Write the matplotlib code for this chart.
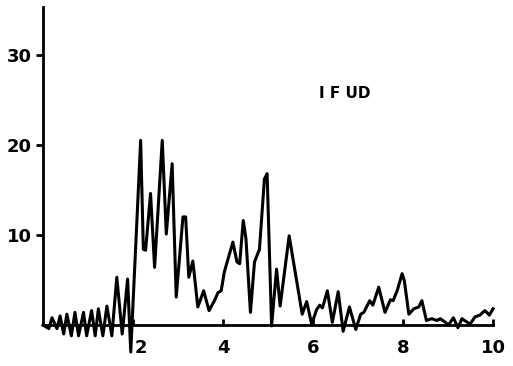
import matplotlib
matplotlib.use("Agg")
import matplotlib.pyplot as plt
import matplotlib.transforms as mtransforms

# Frequency-like abscissa and amplitude
x_vals = [0.0, 0.13, 0.2, 0.31, 0.38, 0.46, 0.53, 0.63, 0.71, 0.79, 0.9, 0.97,
          1.08, 1.16, 1.23, 1.33, 1.42, 1.53, 1.64, 1.76, 1.88, 1.95,
          2.17, 2.23, 2.28, 2.39, 2.48, 2.65, 2.74, 2.87, 2.96, 3.11, 3.17,
          3.24, 3.33, 3.44, 3.57, 3.69, 3.81, 3.89, 3.96, 4.03, 4.11, 4.22,
          4.31, 4.37, 4.45, 4.51, 4.61, 4.70, 4.81, 4.92, 4.98, 5.08, 5.19,
          5.27, 5.47, 5.65, 5.76, 5.86, 5.97, 6.08, 6.15, 6.21, 6.32, 6.43,
          6.56, 6.67, 6.81, 6.95, 7.06, 7.13, 7.26, 7.33, 7.46, 7.60, 7.72,
          7.78, 7.87, 7.98, 8.03, 8.13, 8.24, 8.35, 8.42, 8.52, 8.64, 8.75,
          8.83, 8.94, 9.01, 9.12, 9.22, 9.31, 9.49, 9.60, 9.71, 9.82, 9.92, 10.0]
y_vals = [0.0, -0.4, 0.8, -0.4, 1.0, -1.0, 1.2, -1.2, 1.4, -1.2, 1.4, -1.2,
          1.6, -1.2, 1.8, -1.2, 2.1, -1.2, 5.3, -1.0, 5.1, -3.0,
          20.5, 8.4, 8.3, 14.6, 6.4, 20.5, 10.1, 17.9, 3.1, 12.0, 12.0,
          5.3, 7.1, 2.0, 3.8, 1.6, 2.7, 3.6, 3.8, 5.9, 7.3, 9.2,
          7.0, 6.8, 11.6, 9.6, 1.4, 7.0, 8.4, 16.2, 16.8, -0.1, 6.2,
          2.1, 9.9, 4.5, 1.2, 2.6, 0.1, 1.7, 2.2, 1.9, 3.8, 0.3,
          3.7, -0.7, 2.0, -0.5, 1.2, 1.4, 2.7, 2.2, 4.2, 1.4, 2.8,
          2.7, 3.8, 5.7, 4.9, 1.2, 1.8, 2.0, 2.7, 0.5, 0.7, 0.5,
          0.7, 0.3, 0.0, 0.8, -0.3, 0.7, 0.1, 0.9, 1.1, 1.6, 1.1, 1.8]

x_ticks = [2, 4, 6, 8, 10]
x_tick_labels = ["2", "4", "6", "8", "10"]
y_ticks = [10, 20, 30]
y_tick_labels = ["10", "20", "30"]
label_text = "I F UD"

fig = plt.figure(figsize=(5.13, 3.66), dpi=100)
ax = fig.add_axes([43 / 513, 41 / 366, 450 / 513, 318 / 366])
ax.plot(x_vals, y_vals, color="black", lw=2.2, solid_joinstyle="round",
        clip_on=False)
ax.set_xlim(0, 10)
ax.set_ylim(0, 35.3)
for s in ["top", "right"]:
    ax.spines[s].set_visible(False)
for s in ["left", "bottom"]:
    ax.spines[s].set_linewidth(2.0)

ax.set_xticks(x_ticks)
ax.set_xticklabels(x_tick_labels, fontsize=13, fontweight="bold")
ax.set_yticks(y_ticks)
ax.set_yticklabels(y_tick_labels, fontsize=13, fontweight="bold")
ax.tick_params(axis="x", direction="in", length=4, width=2, pad=10)
ax.tick_params(axis="y", direction="out", length=5, width=2, pad=3)

# the "2" label sits right of its tick in the reference
lbl = ax.get_xticklabels()[0]
lbl.set_transform(lbl.get_transform() +
                  mtransforms.ScaledTranslation(8 / 100, 0, fig.dpi_scale_trans))

ax.text(6.7, 25.7, label_text, fontsize=11, fontweight="bold",
        ha="center", va="center")

fig.savefig("out.png", dpi=100)
